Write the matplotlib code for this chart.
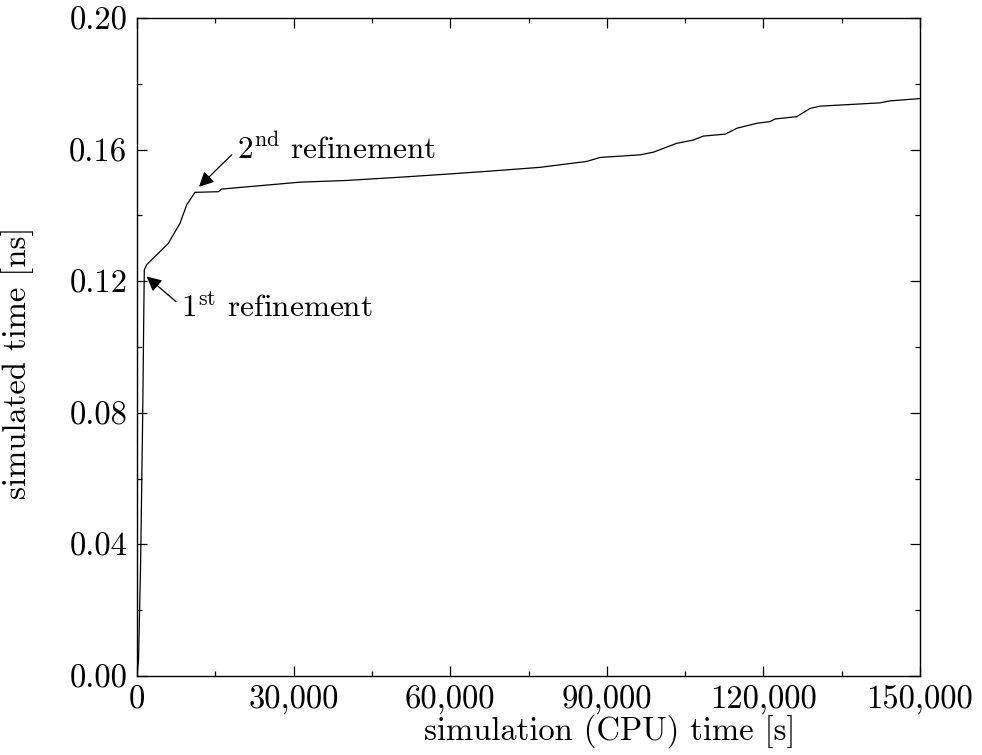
import matplotlib
matplotlib.use('Agg')
import matplotlib.pyplot as plt
from matplotlib.ticker import MultipleLocator, FuncFormatter

plt.rcParams['font.family'] = 'serif'
plt.rcParams['font.serif'] = ['cmr10']
plt.rcParams['mathtext.fontset'] = 'cm'
plt.rcParams['axes.formatter.use_mathtext'] = True

# CPU time [s] vs simulated time [ns]
cpu_time = [0, 300, 700, 1100, 1300, 1400, 1850, 6000, 8240, 9520, 11110,
            15580, 16220, 31220, 40000, 47190, 50380, 59960, 68000, 77200,
            86140, 88700, 96360, 98910, 103380, 106570, 108490, 112700,
            114940, 118770, 121260, 122220, 126370, 128930, 130840, 142330,
            144250, 150000]
sim_time = [0.0, 0.005, 0.035, 0.080, 0.110, 0.1234, 0.1250, 0.1315,
            0.1376, 0.1432, 0.1470, 0.1472, 0.1480, 0.1501, 0.1506, 0.1513,
            0.1516, 0.1526, 0.1535, 0.1546, 0.1564, 0.1576, 0.1584, 0.1592,
            0.1619, 0.1629, 0.1641, 0.1647, 0.1665, 0.1680, 0.1685, 0.1693,
            0.1700, 0.1725, 0.1732, 0.1742, 0.1748, 0.1755]

FS = 23.5
FS_NOTE = 22.5

fig = plt.figure(figsize=(9.82, 7.55), dpi=100)
ax = fig.add_axes([0.1395, 0.1046, 0.7974, 0.8716])

ax.plot(cpu_time, sim_time, color='black', lw=0.9)

ax.set_xlim(0, 150000)
ax.set_ylim(0, 0.20)
ax.xaxis.set_major_locator(MultipleLocator(30000))
ax.xaxis.set_minor_locator(MultipleLocator(15000))
ax.yaxis.set_major_locator(MultipleLocator(0.04))
ax.yaxis.set_minor_locator(MultipleLocator(0.02))
ax.xaxis.set_major_formatter(FuncFormatter(lambda v, p: f'{int(round(v)):,}'))
ax.yaxis.set_major_formatter(FuncFormatter(lambda v, p: f'{v:.2f}'))
ax.tick_params(which='both', direction='in', top=True, right=True,
               labelsize=FS, width=0.9)
ax.tick_params(which='major', length=7, pad=7)
ax.tick_params(which='minor', length=3.6)
for s in ax.spines.values():
    s.set_linewidth(1.0)

ax.set_xlabel('simulation (CPU) time [s]', fontsize=FS, labelpad=0)
ax.xaxis.set_label_coords(0.604, -0.058)
ax.set_ylabel('simulated time [ns]', fontsize=FS)
ax.yaxis.set_label_coords(-0.131, 0.476)

arrow = dict(arrowstyle='-|>', color='black', lw=0.9, mutation_scale=22,
             shrinkA=0, shrinkB=0)
ax.annotate('', xy=(11880, 0.1487), xytext=(18140, 0.1584), arrowprops=arrow)
ax.text(19100, 0.1571, r'2$^{\rm nd}$ refinement', fontsize=FS_NOTE,
        ha='left', va='baseline')
ax.annotate('', xy=(1860, 0.1214), xytext=(7470, 0.1138), arrowprops=arrow)
ax.text(8430, 0.1091, r'1$^{\rm st}$ refinement', fontsize=FS_NOTE,
        ha='left', va='baseline')

fig.savefig('out.png', dpi=100)
